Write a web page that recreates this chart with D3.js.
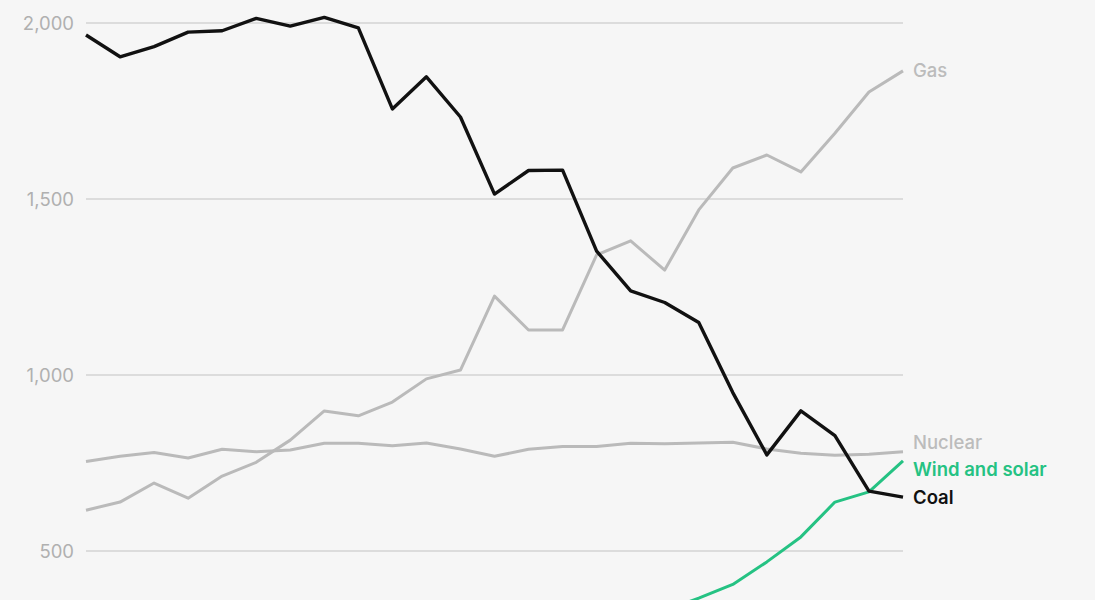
<!DOCTYPE html>
<html>
<head>
<meta charset="utf-8">
<script src="https://cdn.jsdelivr.net/npm/d3@7"></script>
<style>
  html, body { margin: 0; padding: 0; background: #f6f6f6; }
  svg { display: block; font-family: Inter, "Noto Sans", sans-serif; }
</style>
</head>
<body>
<svg id="chart" width="1095" height="600"></svg>
<script>
const years = d3.range(2000, 2025);
const coal = [1966, 1904, 1933, 1974, 1978, 2013, 1991, 2016, 1986, 1756, 1847, 1733, 1514, 1581, 1582, 1352, 1239, 1206, 1149, 950, 773, 898, 828, 670, 653];
const gas = [616, 639, 693, 650, 713, 752, 815, 898, 884, 923, 989, 1014, 1224, 1128, 1128, 1341, 1381, 1298, 1469, 1588, 1625, 1577, 1687, 1804, 1864];
const nuclear = [754, 769, 780, 764, 789, 782, 787, 806, 806, 799, 807, 790, 769, 789, 797, 797, 806, 805, 807, 809, 790, 778, 772, 775, 782];
const windSolar = [6, 7, 11, 12, 15, 18, 27, 35, 56, 75, 96, 122, 145, 177, 211, 230, 282, 331, 366, 405, 469, 540, 639, 668, 756];
const yTicks = [500, 1000, 1500, 2000];

const series = [
  { name: "Nuclear", values: nuclear, color: "#bababa", label: "#bcbcbc", width: 3, weight: 500 },
  { name: "Gas", values: gas, color: "#bababa", label: "#bcbcbc", width: 3, weight: 500 },
  { name: "Wind and solar", values: windSolar, color: "#25c283", label: "#25c283", width: 3, weight: 600 },
  { name: "Coal", values: coal, color: "#111111", label: "#111111", width: 3.4, weight: 600 }
];

const svg = d3.select("#chart");
const x = d3.scaleLinear().domain([2000, 2024]).range([86, 903]);
const y = d3.scaleLinear().domain([0, 2000]).range([727, 23]);

// grid
svg.append("g").selectAll("line").data(yTicks).join("line")
  .attr("x1", x(2000)).attr("x2", x(2024))
  .attr("y1", d => y(d)).attr("y2", d => y(d))
  .attr("stroke", "#d3d3d3").attr("stroke-width", 1.3);

// y axis labels via axis generator
const yAxis = d3.axisLeft(y).tickValues(yTicks).tickSize(0).tickPadding(0)
  .tickFormat(d3.format(","));
const ag = svg.append("g").attr("transform", "translate(74,0)").call(yAxis);
ag.select(".domain").remove();
ag.selectAll("text").attr("fill", "#b0b0b0").attr("font-size", 18.5)
  .attr("font-family", "Inter, sans-serif").attr("dy", "0.35em");

const line = d3.line().x((d, i) => x(years[i])).y(d => y(d));

svg.append("g").selectAll("path").data(series).join("path")
  .attr("d", d => line(d.values))
  .attr("fill", "none")
  .attr("stroke", d => d.color)
  .attr("stroke-width", d => d.width)
  .attr("stroke-linejoin", "round");

svg.append("g").selectAll("text").data(series).join("text")
  .attr("x", x(2024) + 10)
  .attr("y", d => {
    const v = d.values[d.values.length - 1];
    let py = y(v);
    if (d.name === "Nuclear") py -= 9;
    if (d.name === "Wind and solar") py += 9;
    return py;
  })
  .attr("dy", "0.35em")
  .attr("fill", d => d.label)
  .attr("font-size", 18.5)
  .attr("font-weight", d => d.weight)
  .text(d => d.name);
</script>
</body>
</html>
